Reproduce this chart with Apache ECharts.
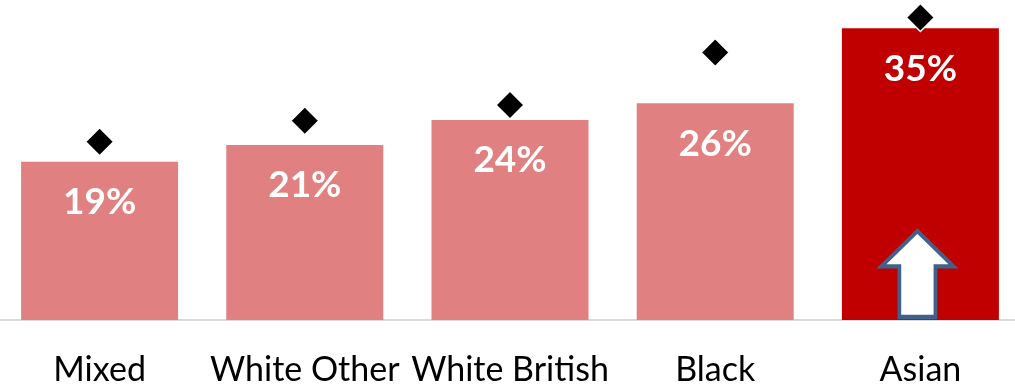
<!DOCTYPE html>
<html>
<head>
<meta charset="utf-8">
<script src="https://cdn.jsdelivr.net/npm/echarts@6/dist/echarts.min.js"></script>
<style>
  html, body { margin: 0; padding: 0; background: #fff; overflow: hidden; }
  #chart { position: absolute; left: -3px; top: 0; width: 1026px; height: 387px; }
</style>
</head>
<body>
<div id="chart"></div>
<script>
// Ethnic groups and their rates (%)
const categories = ['Mixed', 'White Other', 'White British', 'Black', 'Asian'];
const rates = [19, 21, 24, 26, 35];
// Comparison marker for each group (%)
const markers = [21.4, 23.9, 25.8, 32.1, 36.3];

const highlightGroup = 'Asian';
const barPink = '#E08080';
const barRed = '#C00000';

const chart = echarts.init(document.getElementById('chart'));

chart.setOption({
  animation: false,
  grid: { left: 0, right: 0, top: 0, bottom: 67, containLabel: false },
  xAxis: {
    type: 'category',
    data: categories,
    axisTick: { show: false },
    axisLine: { lineStyle: { color: '#d9d9d9', width: 2 } },
    axisLabel: {
      color: '#000',
      fontFamily: 'Lato',
      fontSize: 34,
      margin: 33,
      interval: 0
    }
  },
  yAxis: {
    type: 'value',
    min: 0,
    max: 38.4,
    show: false,
    splitLine: { show: false }
  },
  series: [
    {
      type: 'bar',
      barWidth: 157,
      data: rates.map((v, i) => ({
        value: v,
        itemStyle: { color: categories[i] === highlightGroup ? barRed : barPink }
      })),
      label: {
        show: true,
        position: 'insideTop',
        distance: 22,
        color: '#fff',
        fontFamily: 'Lato',
        fontWeight: 'bold',
        fontSize: 37,
        formatter: p => p.value + '%'
      },
      markPoint: {
        silent: true,
        data: [{
          coord: [highlightGroup, 0],
          symbol: 'path://M38,0 L76,37 L57,37 L57,90 L19,90 L19,37 L0,37 Z',
          symbolSize: [72, 86],
          symbolKeepAspect: false,
          symbolOffset: [-3, -46],
          itemStyle: { color: '#fff', borderColor: '#41618C', borderWidth: 4 },
          label: { show: false }
        }]
      },
      z: 2
    },
    {
      type: 'scatter',
      data: markers,
      symbol: 'diamond',
      symbolSize: 28,
      itemStyle: { color: '#000', opacity: 1, borderColor: '#fff', borderWidth: 1.5 },
      z: 3
    }
  ]
});
</script>
</body>
</html>
